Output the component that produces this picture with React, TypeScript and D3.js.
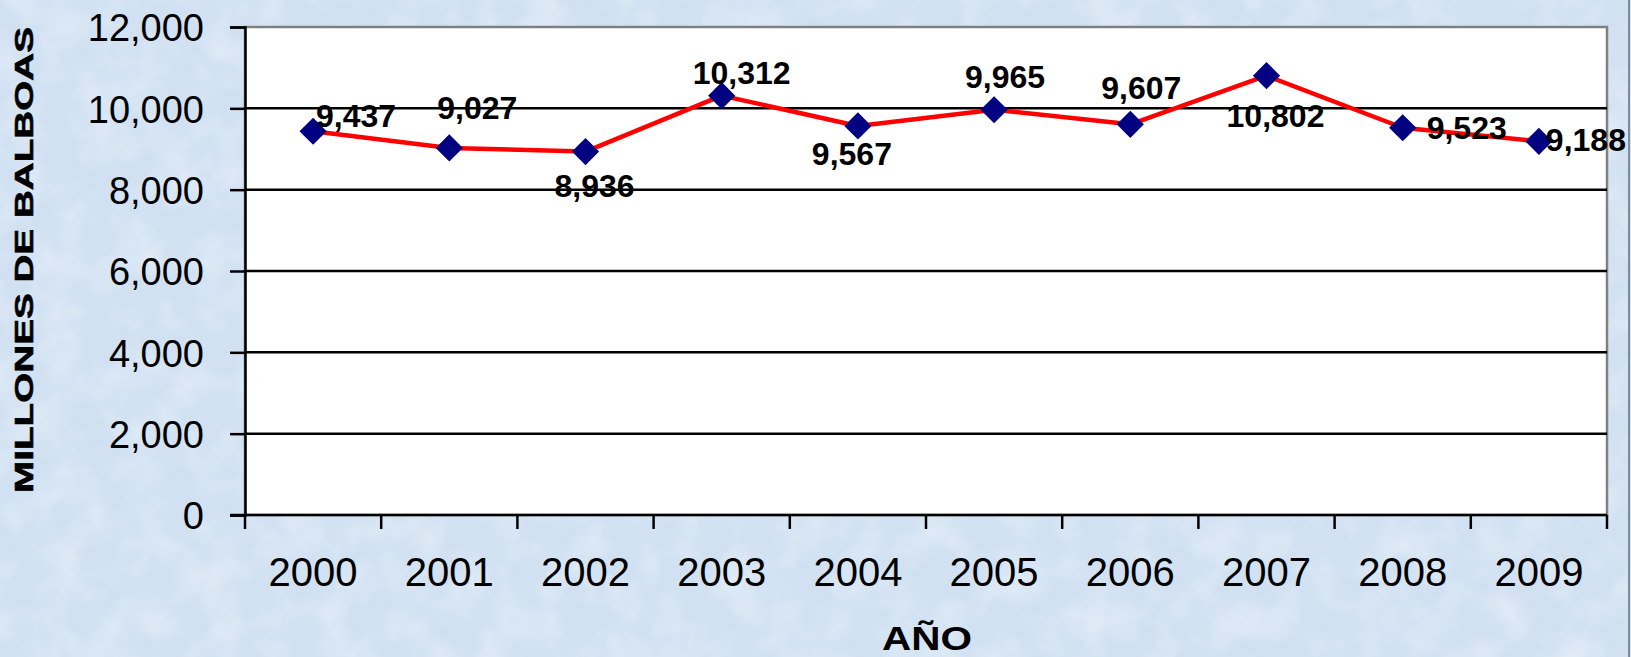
import React, { useEffect, useRef } from 'react';
import * as d3 from 'd3';

// Ingresos por año (millones de balboas)
const years = ['2000', '2001', '2002', '2003', '2004', '2005', '2006', '2007', '2008', '2009'];
const values = [9437, 9027, 8936, 10312, 9567, 9965, 9607, 10802, 9523, 9188];
const yTicks = [0, 2000, 4000, 6000, 8000, 10000, 12000];

// where each data label sits relative to its marker (label centre dx, baseline dy)
const labelOffsets = [
  [43, -4], [28, -29], [9, 45], [20, -12], [-6, 39],
  [11, -22], [11, -25], [9, 51], [64, 11], [47, 10],
];

const W = 1631;
const H = 657;
const FONT = '"Liberation Sans", Arial, Helvetica, sans-serif';

const App: React.FC = () => {
  const svgRef = useRef<SVGSVGElement>(null);

  useEffect(() => {
    document.body.style.margin = '0';
    document.body.style.overflow = 'hidden';
    if (!svgRef.current) return;

    const margin = { top: 27, right: 24, bottom: 142, left: 245 };
    const svg = d3.select(svgRef.current);
    svg.selectAll('*').remove();

    // background texture
    const defs = svg.append('defs');
    const filt = defs.append('filter').attr('id', 'mottle').attr('x', 0).attr('y', 0)
      .attr('width', '100%').attr('height', '100%');
    filt.append('feTurbulence').attr('type', 'fractalNoise')
      .attr('baseFrequency', 0.025).attr('numOctaves', 3).attr('seed', 7);
    filt.append('feColorMatrix').attr('type', 'matrix')
      .attr('values', '0 0 0 0 1  0 0 0 0 1  0 0 0 0 1  0 0 0 0.9 -0.35');

    svg.append('rect').attr('width', W).attr('height', H).attr('fill', '#d1e1f2');
    svg.append('rect').attr('width', W).attr('height', H).attr('filter', 'url(#mottle)').attr('opacity', 0.7);
    // slide edge at far right
    svg.append('line').attr('x1', 1629).attr('x2', 1629).attr('y1', 0).attr('y2', H)
      .attr('stroke', '#7f8b96').attr('stroke-width', 2);

    const x = d3.scaleBand()
      .domain(years)
      .range([margin.left, W - margin.right]);

    const y = d3.scaleLinear()
      .domain([0, 12000])
      .range([H - margin.bottom, margin.top]);

    // plot area
    svg.append('rect')
      .attr('x', margin.left).attr('y', margin.top)
      .attr('width', W - margin.right - margin.left)
      .attr('height', H - margin.bottom - margin.top)
      .attr('fill', '#ffffff')
      .attr('stroke', '#808080').attr('stroke-width', 2.5);

    // gridlines
    svg.append('g').selectAll('line')
      .data(yTicks.filter(t => t > 0 && t < 12000))
      .enter().append('line')
      .attr('x1', margin.left).attr('x2', W - margin.right)
      .attr('y1', d => y(d)).attr('y2', d => y(d))
      .attr('stroke', '#000').attr('stroke-width', 2.5);

    // Y axis
    const yAxis = svg.append('g')
      .attr('transform', `translate(${margin.left},0)`)
      .call(d3.axisLeft(y).tickValues(yTicks).tickSize(15).tickPadding(26)
        .tickFormat(d => d3.format(',')(d as number)));
    yAxis.select('.domain').attr('stroke', '#000').attr('stroke-width', 2.5);
    yAxis.selectAll('.tick line').attr('stroke', '#000').attr('stroke-width', 2.5);
    yAxis.selectAll('.tick text')
      .attr('font-family', FONT).attr('font-size', 38).attr('fill', '#000')
      .attr('dy', '0.36em');

    // X axis: ticks on the band edges
    const xg = svg.append('g');
    const edges = years.map(d => x(d) as number).concat([W - margin.right]);
    xg.selectAll('line.tk').data(edges).enter().append('line')
      .attr('x1', d => d).attr('x2', d => d)
      .attr('y1', y(0)).attr('y2', y(0) + 14)
      .attr('stroke', '#000').attr('stroke-width', 2.5);
    xg.append('line')
      .attr('x1', margin.left - 15).attr('x2', W - margin.right)
      .attr('y1', y(0)).attr('y2', y(0))
      .attr('stroke', '#000').attr('stroke-width', 2.5);
    xg.selectAll('text').data(years).enter().append('text')
      .attr('x', d => (x(d) as number) + x.bandwidth() / 2)
      .attr('y', 586)
      .attr('text-anchor', 'middle')
      .attr('font-family', FONT).attr('font-size', 40).attr('fill', '#000')
      .text(d => d);

    // series
    const pts = years.map((yr, i) => ({ yr, v: values[i], i }));
    const line = d3.line<typeof pts[0]>()
      .x(d => (x(d.yr) as number) + x.bandwidth() / 2)
      .y(d => y(d.v));
    svg.append('path').datum(pts)
      .attr('d', line)
      .attr('fill', 'none').attr('stroke', '#ff0000').attr('stroke-width', 4.5)
      .attr('stroke-linejoin', 'round');

    const diamond = d3.symbol().type(d3.symbolSquare).size(370);
    svg.append('g').selectAll('path').data(pts).enter().append('path')
      .attr('d', diamond)
      .attr('transform', d => `translate(${(x(d.yr) as number) + x.bandwidth() / 2},${y(d.v)}) rotate(45)`)
      .attr('fill', '#000080');

    svg.append('g').selectAll('text').data(pts).enter().append('text')
      .attr('x', d => (x(d.yr) as number) + x.bandwidth() / 2 + labelOffsets[d.i][0])
      .attr('y', d => y(d.v) + labelOffsets[d.i][1])
      .attr('text-anchor', 'middle')
      .attr('font-family', FONT).attr('font-size', 32).attr('font-weight', 'bold')
      .attr('fill', '#000')
      .text(d => d3.format(',')(d.v));

    // axis titles
    svg.append('text')
      .attr('transform', 'translate(33,260) rotate(-90)')
      .attr('text-anchor', 'middle')
      .attr('font-family', FONT).attr('font-size', 26).attr('font-weight', 'bold')
      .attr('stroke', '#000').attr('stroke-width', 0.6)
      .attr('textLength', 466).attr('lengthAdjust', 'spacingAndGlyphs')
      .text('MILLONES DE BALBOAS');

    svg.append('text')
      .attr('x', 927).attr('y', 650)
      .attr('text-anchor', 'middle')
      .attr('font-family', FONT).attr('font-size', 33).attr('font-weight', 'bold')
      .attr('textLength', 90).attr('lengthAdjust', 'spacingAndGlyphs')
      .text('AÑO');
  }, []);

  return (
    <svg ref={svgRef} width={W} height={H}
      style={{ position: 'absolute', left: 0, top: 0, display: 'block' }} />
  );
};

export default App;
